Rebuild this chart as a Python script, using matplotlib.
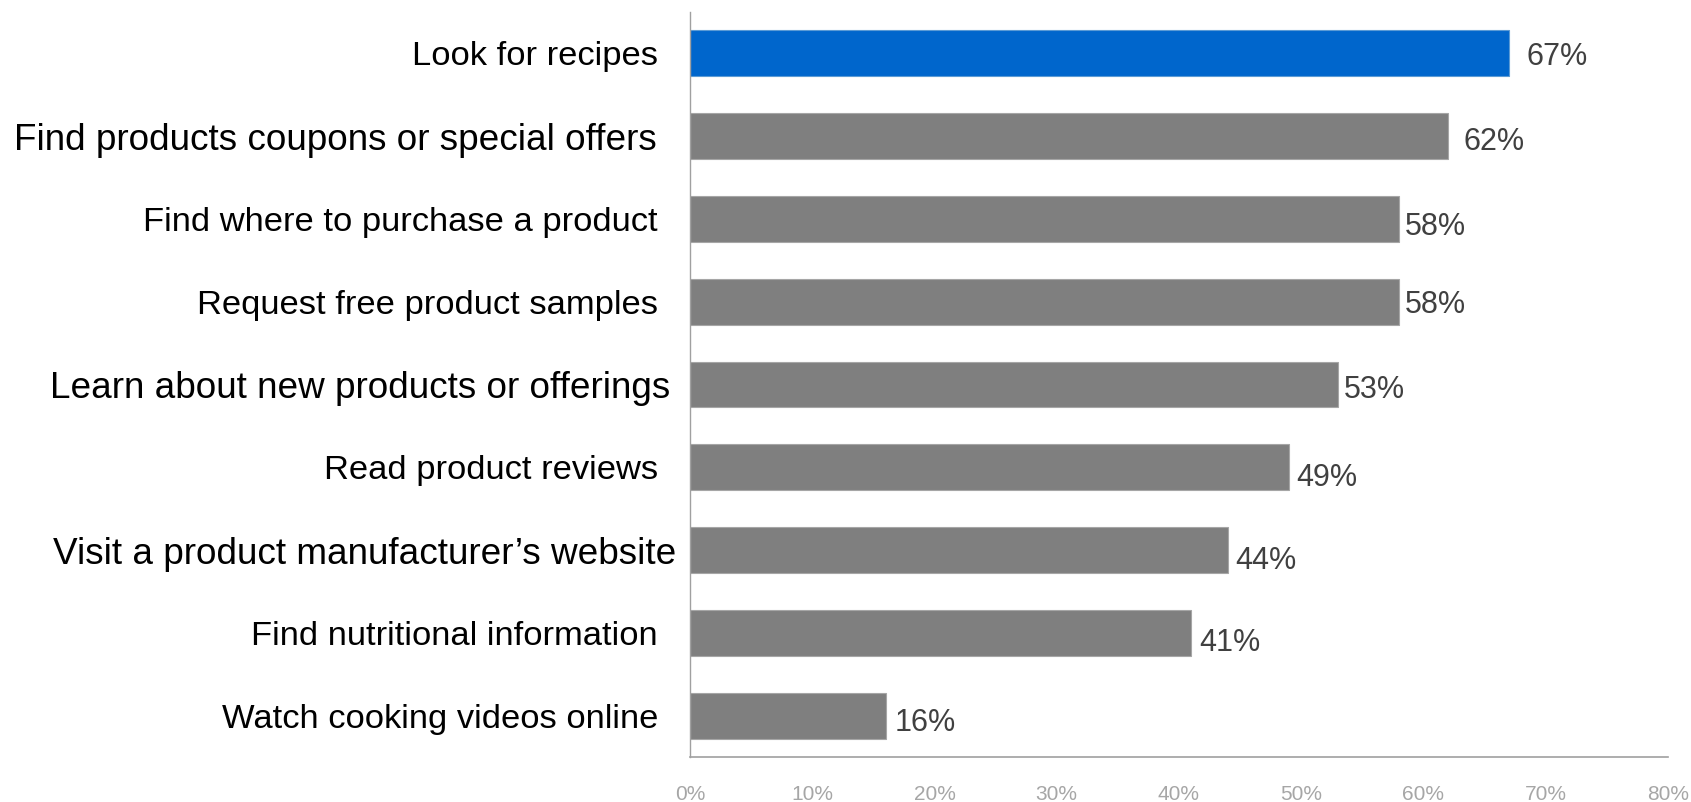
import matplotlib
matplotlib.use("Agg")
import matplotlib.pyplot as plt
from matplotlib.ticker import FuncFormatter, MultipleLocator

plt.rcParams["font.family"] = ["Liberation Sans", "DejaVu Sans"]

# Survey answers: share of respondents (%) per online activity
activities = [
    "Look for recipes",
    "Find products coupons or special offers",
    "Find where to purchase a product",
    "Request free product samples",
    "Learn about new products or offerings",
    "Read product reviews",
    "Visit a product manufacturer\u2019s website",
    "Find nutritional information",
    "Watch cooking videos online",
]
shares = [67, 62, 58, 58, 53, 49, 44, 41, 16]
x_ticks = [0, 10, 20, 30, 40, 50, 60, 70, 80]

# Styling
highlight_color = "#0066CC"
bar_color = "#7F7F7F"
label_sizes = [24.8, 26.6, 24.8, 24.8, 26.6, 24.8, 26.6, 24.8, 24.8]
label_gaps = [23, 24, 23, 23, 14.5, 23, 10, 23, 23]          # points left of the axis
value_nudges = [(12.5, 0), (11, -1.5), (4.5, -3.5), (4.5, 0), (4.5, -1.5),
                (5, -5), (5, -5), (6, -5), (6.5, -3)]            # points (dx, dy)

fig = plt.figure(figsize=(16.91, 8.02), dpi=100)
ax = fig.add_axes([0.408, 0.0561, 0.9864 - 0.408, 0.985 - 0.0561])

positions = list(range(len(activities)))
colors = [highlight_color] + [bar_color] * (len(activities) - 1)
edges = ["#5B9BD5"] + ["#A6A6A6"] * (len(activities) - 1)
bars = ax.barh(positions, shares, height=0.555, color=colors,
               edgecolor=edges, linewidth=0.8, zorder=2)

ax.set_xlim(x_ticks[0], x_ticks[-1])
ax.set_ylim(len(activities) - 0.5, -0.5)

# Category labels on the left
ax.set_yticks([])
for i, (name, size, gap) in enumerate(zip(activities, label_sizes, label_gaps)):
    ax.annotate(name, xy=(0, i), xycoords=("axes fraction", "data"),
                xytext=(-gap, 0), textcoords="offset points",
                ha="right", va="center_baseline", fontsize=size, color="#000000")

# Value labels at the bar ends
for i, (val, (dx, dy)) in enumerate(zip(shares, value_nudges)):
    ax.annotate(f"{val}%", xy=(val, i), xytext=(dx, dy), textcoords="offset points",
                ha="left", va="center_baseline", fontsize=22, color="#404040")

# Axis styling
ax.set_xticks(x_ticks)
ax.xaxis.set_major_formatter(FuncFormatter(lambda v, _: f"{v:.0f}%"))
ax.tick_params(axis="x", length=0, pad=20, labelsize=15, labelcolor="#A6A6A6")
for side in ("top", "right"):
    ax.spines[side].set_visible(False)
ax.spines["left"].set_color("#A0A0A0")
ax.spines["left"].set_linewidth(1.0)
ax.spines["bottom"].set_color("#A0A0A0")
ax.spines["bottom"].set_linewidth(1.2)

fig.savefig("out.png", dpi=100, facecolor="white")
